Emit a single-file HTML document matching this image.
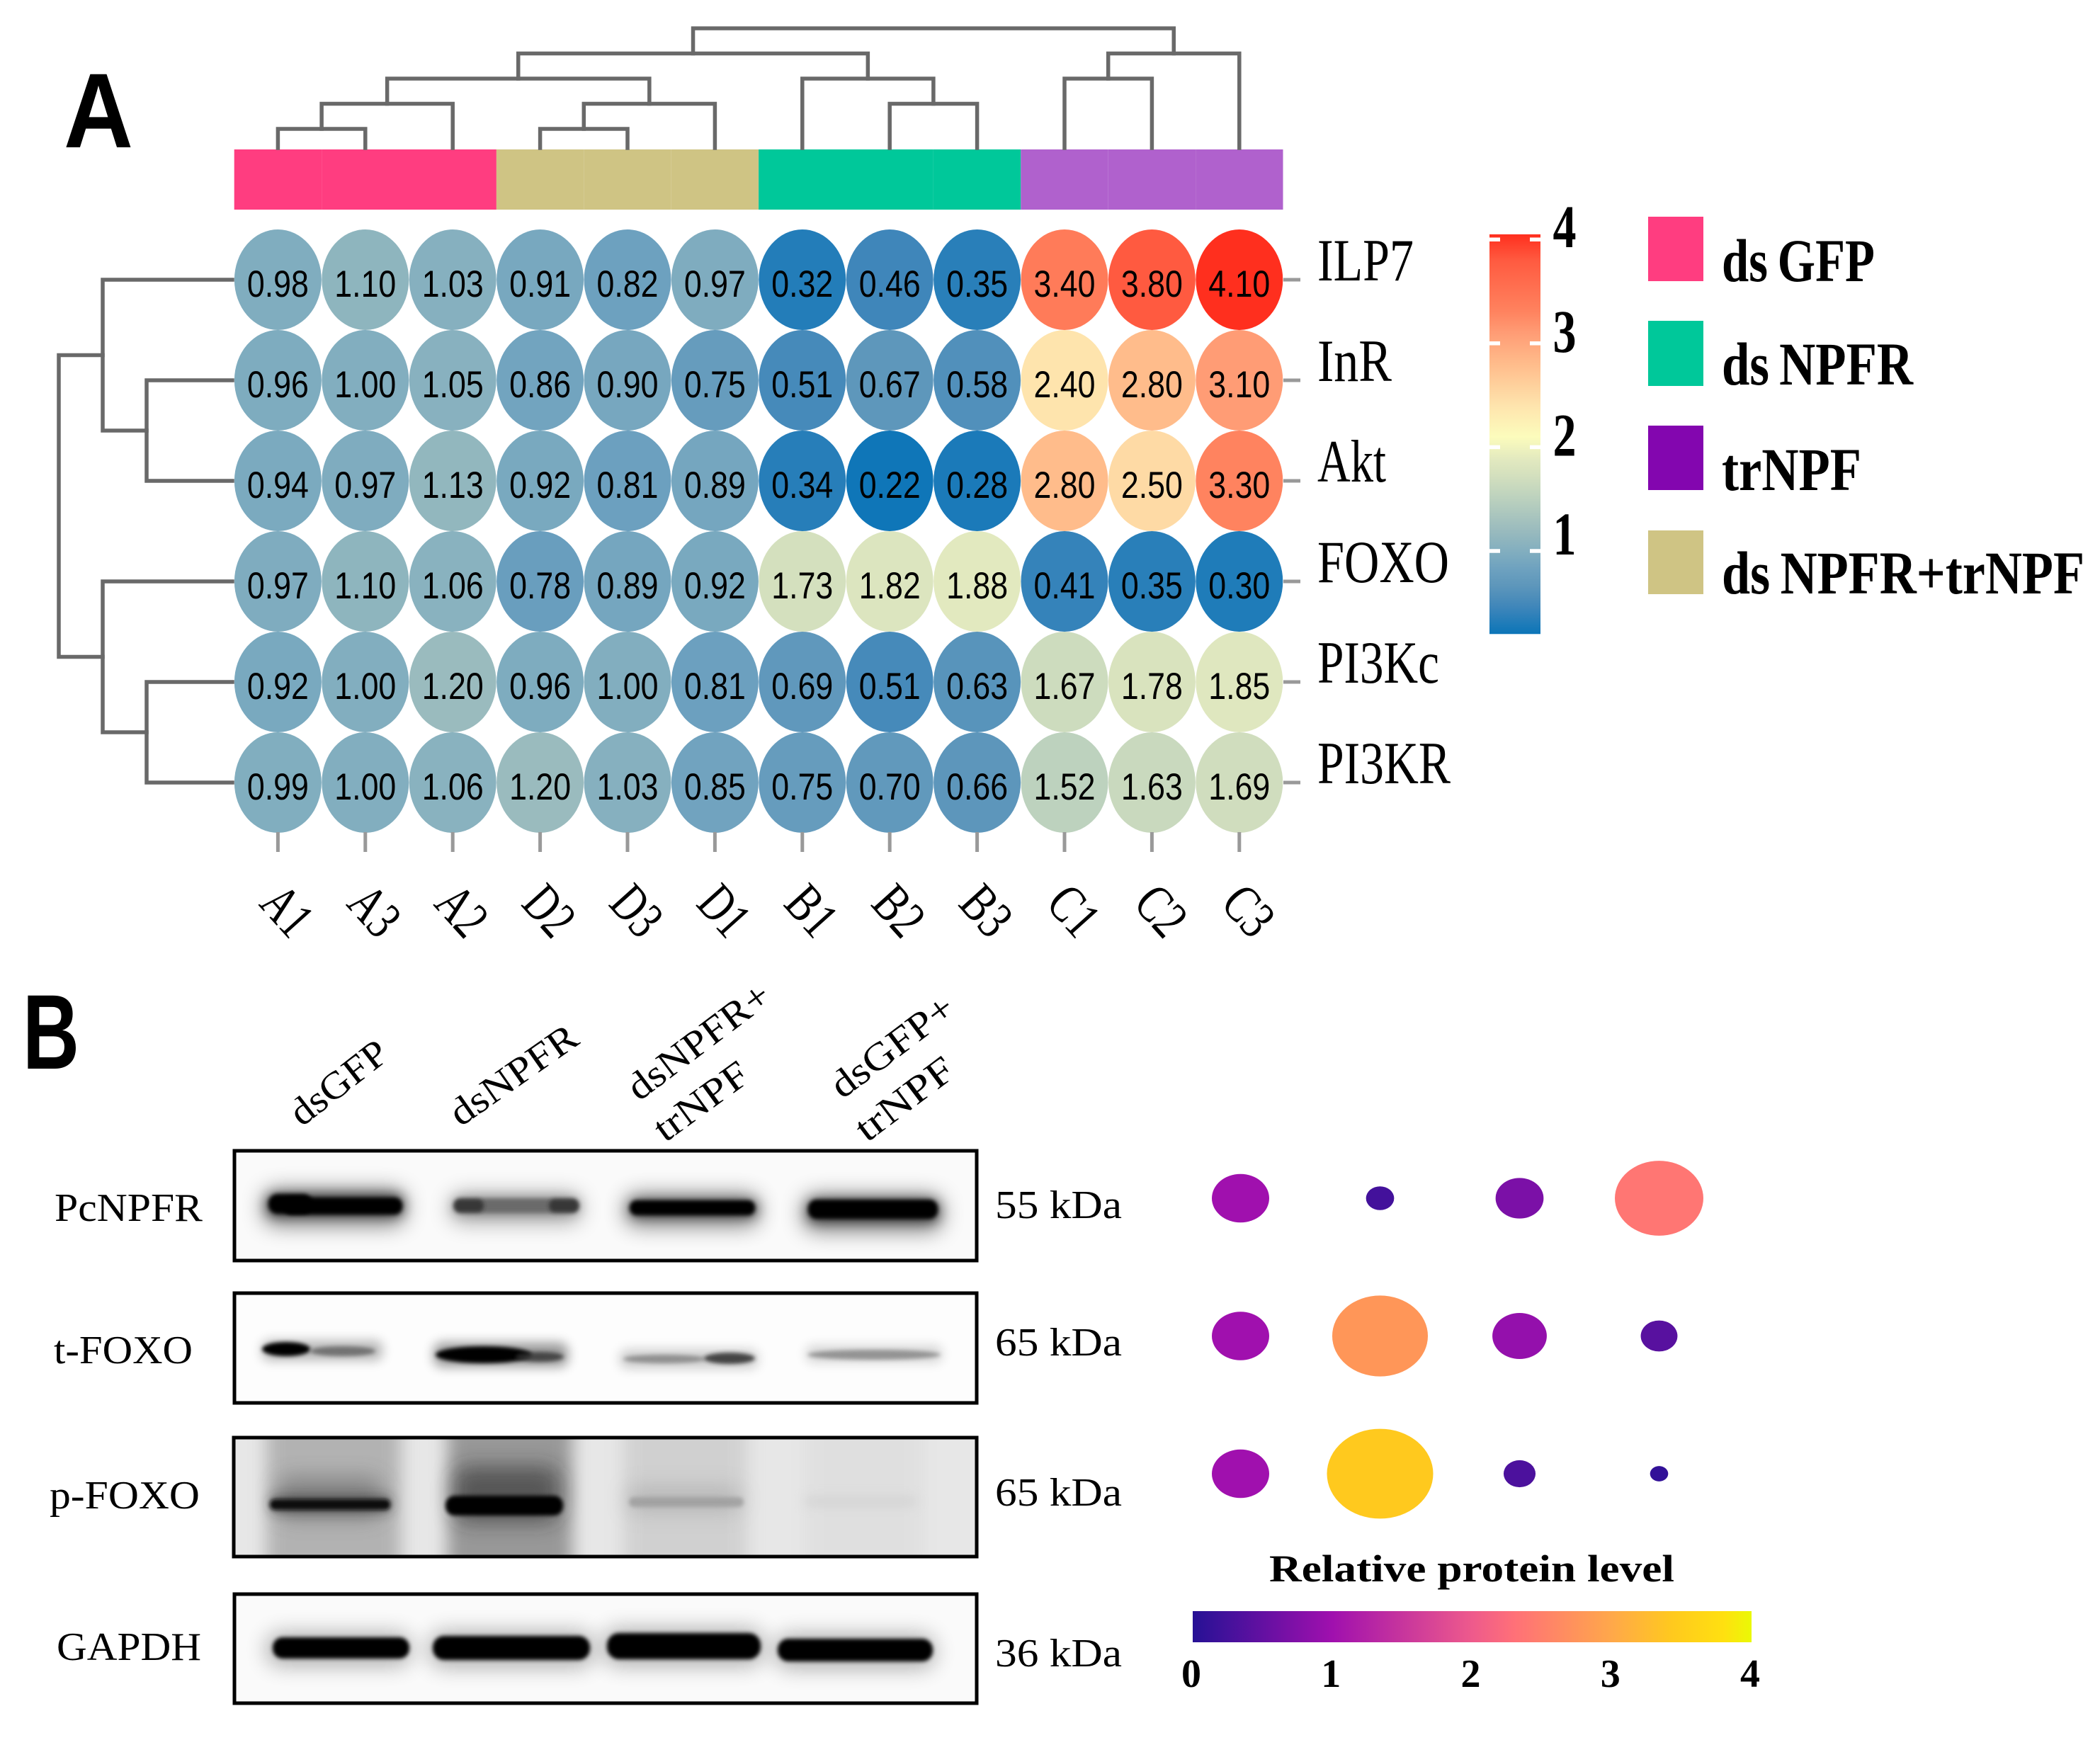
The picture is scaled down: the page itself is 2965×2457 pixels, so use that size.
<!DOCTYPE html>
<html lang="en">
<head>
<meta charset="utf-8">
<title>Heatmap and western blot figure</title>
<style>
html,body{margin:0;padding:0;background:#fff;}
svg{display:block;}
text{fill:#000;}
.serif{font-family:"Liberation Serif",serif;}
.sans{font-family:"Liberation Sans",sans-serif;}
</style>
</head>
<body>
<svg id="fig" xmlns="http://www.w3.org/2000/svg" width="2965" height="2457" viewBox="0 0 2965 2457">
<defs>
<filter id="b3" x="-30%" y="-200%" width="160%" height="500%"><feGaussianBlur stdDeviation="3"/></filter>
<filter id="b8" x="-30%" y="-300%" width="160%" height="700%"><feGaussianBlur stdDeviation="8"/></filter>
<filter id="b14" x="-40%" y="-300%" width="180%" height="700%"><feGaussianBlur stdDeviation="15"/></filter>
<filter id="b20" x="-40%" y="-100%" width="180%" height="300%"><feGaussianBlur stdDeviation="12"/></filter>
<clipPath id="c1"><rect x="331" y="1623" width="1048" height="159"/></clipPath>
<clipPath id="c2"><rect x="331" y="1824" width="1048" height="159"/></clipPath>
<clipPath id="c3"><rect x="330" y="2028" width="1049" height="172"/></clipPath>
<clipPath id="c4"><rect x="331" y="2249" width="1048" height="158"/></clipPath>
</defs>

<text class="sans" font-weight="700" x="90" y="208" font-size="150" textLength="98" lengthAdjust="spacingAndGlyphs">A</text>
<text class="sans" font-weight="700" x="32" y="1509" font-size="150" textLength="80" lengthAdjust="spacingAndGlyphs">B</text>

<g id="heatmap"></g>
<g id="legend-a">
<rect x="2327" y="306" width="78" height="91" fill="#FF3D80"/>
<rect x="2327" y="453" width="78" height="92" fill="#00C89A"/>
<rect x="2327" y="601" width="78" height="91" fill="#8306AF"/>
<rect x="2327" y="749" width="78" height="90" fill="#CFC484"/>
<g class="serif" font-weight="700" font-size="86">
<text x="2431" y="397" textLength="216" lengthAdjust="spacingAndGlyphs">ds&#8201;GFP</text>
<text x="2431" y="543" textLength="270" lengthAdjust="spacingAndGlyphs">ds&#8201;NPFR</text>
<text x="2431" y="692" textLength="197" lengthAdjust="spacingAndGlyphs">trNPF</text>
<text x="2431" y="838" textLength="512" lengthAdjust="spacingAndGlyphs">ds&#8201;NPFR+trNPF</text>
</g>
</g>

<g id="blots">
<g class="serif" font-size="54">
<text transform="translate(426,1592) rotate(-38)" textLength="160" lengthAdjust="spacingAndGlyphs">dsGFP</text>
<text transform="translate(650,1592) rotate(-35)" textLength="208" lengthAdjust="spacingAndGlyphs">dsNPFR</text>
<text transform="translate(902,1556) rotate(-37)" textLength="238" lengthAdjust="spacingAndGlyphs">dsNPFR+</text>
<text transform="translate(939,1614) rotate(-36)" textLength="152" lengthAdjust="spacingAndGlyphs">trNPF</text>
<text transform="translate(1189,1553) rotate(-37)" textLength="204" lengthAdjust="spacingAndGlyphs">dsGFP+</text>
<text transform="translate(1224,1614) rotate(-37)" textLength="160" lengthAdjust="spacingAndGlyphs">trNPF</text>
</g>

<g>
<rect x="331" y="1623" width="1048" height="159" fill="#fafafa"/>
<g clip-path="url(#c1)">
<rect x="372" y="1680" width="200" height="50" rx="18" fill="#000" opacity=".5" filter="url(#b14)"/>
<rect x="636" y="1686" width="184" height="40" rx="16" fill="#000" opacity=".34" filter="url(#b14)"/>
<rect x="882" y="1686" width="190" height="46" rx="18" fill="#000" opacity=".45" filter="url(#b14)"/>
<rect x="1134" y="1688" width="196" height="50" rx="18" fill="#000" opacity=".5" filter="url(#b14)"/>
<rect x="376" y="1686" width="194" height="32" rx="12" fill="#000" opacity=".55" filter="url(#b8)"/>
<rect x="640" y="1692" width="178" height="22" rx="10" fill="#000" opacity=".3" filter="url(#b8)"/>
<rect x="888" y="1694" width="182" height="26" rx="12" fill="#000" opacity=".5" filter="url(#b8)"/>
<rect x="1140" y="1694" width="186" height="32" rx="12" fill="#000" opacity=".55" filter="url(#b8)"/>
<rect x="379" y="1686" width="62" height="28" rx="13" fill="#000" filter="url(#b3)"/>
<rect x="400" y="1691" width="168" height="24" rx="11" fill="#000" filter="url(#b3)"/>
<rect x="641" y="1693" width="176" height="19" rx="9" fill="#6a6a6a" filter="url(#b3)"/>
<rect x="641" y="1693" width="42" height="19" rx="9" fill="#222" opacity=".7" filter="url(#b3)"/>
<rect x="775" y="1693" width="42" height="19" rx="9" fill="#222" opacity=".7" filter="url(#b3)"/>
<rect x="889" y="1695" width="177" height="21" rx="10" fill="#050505" filter="url(#b3)"/>
<rect x="1141" y="1694" width="183" height="27" rx="12" fill="#000" filter="url(#b3)"/>
</g>
<rect x="331" y="1625" width="1048" height="155" fill="none" stroke="#000" stroke-width="5"/>
</g>

<g>
<rect x="331" y="1824" width="1048" height="159" fill="#fdfdfd"/>
<g clip-path="url(#c2)">
<rect x="370" y="1893" width="170" height="28" rx="10" fill="#000" opacity=".28" filter="url(#b8)"/>
<rect x="612" y="1896" width="190" height="34" rx="12" fill="#000" opacity=".4" filter="url(#b8)"/>
<rect x="875" y="1906" width="195" height="26" rx="10" fill="#000" opacity=".2" filter="url(#b8)"/>
<rect x="1138" y="1900" width="192" height="24" rx="9" fill="#000" opacity=".16" filter="url(#b8)"/>
<ellipse cx="404" cy="1905" rx="34" ry="10" fill="#000" filter="url(#b3)"/>
<ellipse cx="484" cy="1908" rx="46" ry="7" fill="#555" opacity=".7" filter="url(#b3)"/>
<ellipse cx="683" cy="1913" rx="68" ry="12" fill="#000" filter="url(#b3)"/>
<ellipse cx="762" cy="1916" rx="34" ry="7" fill="#333" opacity=".8" filter="url(#b3)"/>
<ellipse cx="938" cy="1919" rx="58" ry="6" fill="#777" opacity=".7" filter="url(#b3)"/>
<ellipse cx="1030" cy="1918" rx="36" ry="8" fill="#222" opacity=".8" filter="url(#b3)"/>
<ellipse cx="1234" cy="1913" rx="94" ry="7" fill="#777" opacity=".7" filter="url(#b3)"/>
</g>
<rect x="331" y="1826" width="1048" height="155" fill="none" stroke="#000" stroke-width="5"/>
</g>

<g>
<rect x="330" y="2028" width="1049" height="172" fill="#e7e7e7"/>
<g clip-path="url(#c3)">
<rect x="376" y="2000" width="190" height="220" fill="#888" opacity=".55" filter="url(#b20)"/>
<rect x="632" y="2000" width="176" height="220" fill="#777" opacity=".7" filter="url(#b20)"/>
<rect x="880" y="2000" width="175" height="220" fill="#bbb" opacity=".5" filter="url(#b20)"/>
<rect x="1135" y="2000" width="170" height="220" fill="#d0d0d0" opacity=".3" filter="url(#b20)"/>
<rect x="390" y="2085" width="150" height="60" rx="20" fill="#444" opacity=".4" filter="url(#b14)"/>
<rect x="640" y="2070" width="150" height="80" rx="20" fill="#222" opacity=".55" filter="url(#b14)"/>
<rect x="885" y="2100" width="160" height="35" rx="12" fill="#888" opacity=".35" filter="url(#b14)"/>
<rect x="381" y="2112" width="172" height="24" rx="10" fill="#222" opacity=".5" filter="url(#b8)"/>
<rect x="381" y="2117" width="170" height="15" rx="7" fill="#111" filter="url(#b3)"/>
<rect x="629" y="2112" width="166" height="28" rx="13" fill="#000" filter="url(#b3)"/>
<rect x="888" y="2114" width="162" height="14" rx="7" fill="#999" opacity=".75" filter="url(#b3)"/>
<rect x="1135" y="2114" width="160" height="12" rx="6" fill="#c4c4c4" opacity=".5" filter="url(#b8)"/>
</g>
<rect x="330" y="2030" width="1049" height="168" fill="none" stroke="#000" stroke-width="5"/>
</g>

<g>
<rect x="331" y="2249" width="1048" height="158" fill="#fafafa"/>
<g clip-path="url(#c4)">
<rect x="376" y="2306" width="205" height="46" rx="20" fill="#000" opacity=".3" filter="url(#b14)"/>
<rect x="606" y="2304" width="232" height="50" rx="20" fill="#000" opacity=".3" filter="url(#b14)"/>
<rect x="852" y="2300" width="226" height="52" rx="20" fill="#000" opacity=".3" filter="url(#b14)"/>
<rect x="1094" y="2308" width="226" height="48" rx="20" fill="#000" opacity=".3" filter="url(#b14)"/>
<rect x="385" y="2312" width="193" height="30" rx="14" fill="#000" filter="url(#b3)"/>
<rect x="611" y="2310" width="222" height="34" rx="16" fill="#000" filter="url(#b3)"/>
<rect x="857" y="2306" width="217" height="37" rx="17" fill="#000" filter="url(#b3)"/>
<rect x="1098" y="2314" width="219" height="32" rx="15" fill="#000" filter="url(#b3)"/>
</g>
<rect x="331" y="2251" width="1048" height="154" fill="none" stroke="#000" stroke-width="5"/>
</g>

<g class="serif" font-size="56">
<text x="77" y="1724" textLength="209" lengthAdjust="spacingAndGlyphs">PcNPFR</text>
<text x="76" y="1925" textLength="196" lengthAdjust="spacingAndGlyphs">t-FOXO</text>
<text x="70" y="2130" textLength="212" lengthAdjust="spacingAndGlyphs">p-FOXO</text>
<text x="80" y="2344" textLength="204" lengthAdjust="spacingAndGlyphs">GAPDH</text>
<text x="1405" y="1720" textLength="179" lengthAdjust="spacingAndGlyphs">55 kDa</text>
<text x="1405" y="1914" textLength="179" lengthAdjust="spacingAndGlyphs">65 kDa</text>
<text x="1405" y="2126" textLength="179" lengthAdjust="spacingAndGlyphs">65 kDa</text>
<text x="1405" y="2353" textLength="179" lengthAdjust="spacingAndGlyphs">36 kDa</text>
</g>
</g>

<g id="bubbles"></g>
<text class="serif" font-weight="700" font-size="54" x="1792" y="2233" textLength="572" lengthAdjust="spacingAndGlyphs">Relative protein level</text>
</svg>

<script>
// ---------- Heatmap data ----------
const heatColumns = ['A1','A3','A2','D2','D3','D1','B1','B2','B3','C1','C2','C3'];
const heatGenes = ['ILP7','InR','Akt','FOXO','PI3Kc','PI3KR'];
const valuesILP7 = [0.98,1.10,1.03,0.91,0.82,0.97,0.32,0.46,0.35,3.40,3.80,4.10];
const valuesInR = [0.96,1.00,1.05,0.86,0.90,0.75,0.51,0.67,0.58,2.40,2.80,3.10];
const valuesAkt = [0.94,0.97,1.13,0.92,0.81,0.89,0.34,0.22,0.28,2.80,2.50,3.30];
const valuesFOXO = [0.97,1.10,1.06,0.78,0.89,0.92,1.73,1.82,1.88,0.41,0.35,0.30];
const valuesPI3Kc = [0.92,1.00,1.20,0.96,1.00,0.81,0.69,0.51,0.63,1.67,1.78,1.85];
const valuesPI3KR = [0.99,1.00,1.06,1.20,1.03,0.85,0.75,0.70,0.66,1.52,1.63,1.69];
const heatRows = [valuesILP7,valuesInR,valuesAkt,valuesFOXO,valuesPI3Kc,valuesPI3KR];
const columnGroups = ['dsGFP','dsGFP','dsGFP','mix','mix','mix','dsNPFR','dsNPFR','dsNPFR','trNPF','trNPF','trNPF'];
const groupNames = ['dsGFP','mix','dsNPFR','trNPF'];
const groupColors = ['#FF3D80','#CFC484','#00C89A','#B061CD'];
const heatStops = [0.2,0.46,0.67,0.82,0.98,1.2,1.5,1.73,1.88,2.1,2.4,2.8,3.1,3.3,3.8,4.1];
const heatColors = ['#0B75B8','#3F86BA','#5E97BB','#6DA1BF','#80ADBF','#9ABBBE','#BBD1BE','#D4E0BE','#E2E9BF','#FCFCBC','#FEE4AD','#FFBC8B','#FF9C75','#FF835F','#FF5A40','#FF2F1E'];
const heatTicks = [1,2,3,4];
const heatBarRange = [0.2,4.05];
// dendrograms: [left, right, mergeHeight]; numbers are leaf indices
const topTree = [[[[[0,1,1],2,2],[[3,4,1],5,2],3],[6,[7,8,2],3],4],[[9,10,3],11,4],5];
const leftTree = [[0,[1,2,1],2],[3,[4,5,1],2],3];
// ---------- Bubble data ----------
const bubbleRowA = [1.00,0.24,0.70,2.38];
const bubbleRowB = [1.00,2.78,0.90,0.41];
const bubbleRowC = [1.00,3.43,0.31,0.10];
const bubbleRows = [bubbleRowA,bubbleRowB,bubbleRowC];
const bubbleRowNames = ['PcNPFR','t-FOXO','p-FOXO'];
const bubbleTicks = [0,1,2,3,4];
const plasmaStops = [0,1,2,2.3,3,3.43,3.8,4];
const plasmaColors = ['#261195','#A010AE','#EE5A8C','#FF7078','#FFA84A','#FFC91E','#FFE010','#EAF905'];

// ---------- Axis functions ----------
const xCol = i => 392.4 + 123.4 * i;
const yRow = j => 395 + 142 * j;
const yHeatBar = v => 924.6 - 146.6 * v;
const yTopMerge = h => 182 - 35.5 * (h - 1);
const xLeftMerge = h => 207 - 62 * (h - 1);
const xBubbleCol = i => 1751.5 + 197 * i;
const yBubbleRow = j => 1692 + 194.5 * j;
const bubbleW = v => 81 * Math.sqrt(v);
const bubbleH = v => 68.5 * Math.sqrt(v);
const xPlasma = v => 1684 + 197.25 * v;

const NS = 'http://www.w3.org/2000/svg';
function el(tag, attrs, parent, txt) {
  const e = document.createElementNS(NS, tag);
  for (const k in attrs) e.setAttribute(k, attrs[k]);
  if (txt !== undefined) e.textContent = txt;
  parent.appendChild(e);
  return e;
}
function ramp(stops, colors, v) {
  const hex = c => [1,3,5].map(p => parseInt(c.substr(p,2),16));
  if (v <= stops[0]) return colors[0];
  for (let i = 1; i < stops.length; i++) {
    if (v <= stops[i]) {
      const t = (v - stops[i-1]) / (stops[i] - stops[i-1]);
      const a = hex(colors[i-1]), b = hex(colors[i]);
      return 'rgb(' + a.map((x,k) => Math.round(x + (b[k]-x)*t)).join(',') + ')';
    }
  }
  return colors[colors.length-1];
}

const svg = document.getElementById('fig');
const defs = svg.querySelector('defs');
const hm = document.getElementById('heatmap');
const DENDRO = '#696969';

// annotation strip
heatColumns.forEach((c, i) => {
  const r = el('rect', {x: xCol(i)-61.7, y: 211, width: 123.4, height: 85,
    fill: groupColors[groupNames.indexOf(columnGroups[i])]}, hm);
  
  
});

// dendrograms
const dendroTop = el('g', {fill:'none', stroke:DENDRO, 'stroke-width':5.5, 'stroke-linecap':'square'}, hm);


function drawTop(node) {
  if (typeof node === 'number') return {x: xCol(node), y: 209};
  const a = drawTop(node[0]), b = drawTop(node[1]), y = yTopMerge(node[2]);
  el('path', {d: `M${a.x} ${a.y}V${y}H${b.x}V${b.y}`}, dendroTop);
  return {x: (a.x + b.x) / 2, y};
}
drawTop(topTree);
const dendroLeft = el('g', {fill:'none', stroke:DENDRO, 'stroke-width':5.5, 'stroke-linecap':'square'}, hm);


function drawLeft(node) {
  if (typeof node === 'number') return {x: 328, y: yRow(node)};
  const a = drawLeft(node[0]), b = drawLeft(node[1]), x = xLeftMerge(node[2]);
  el('path', {d: `M${a.x} ${a.y}H${x}V${b.y}H${b.x}`}, dendroLeft);
  return {x, y: (a.y + b.y) / 2};
}
drawLeft(leftTree);

// cells
heatRows.forEach((row, j) => {
  row.forEach((v, i) => {
    const c = el('ellipse', {cx: xCol(i), cy: yRow(j), rx: 61.5, ry: 71, fill: ramp(heatStops, heatColors, v)}, hm);
    
    
    const t = el('text', {x: xCol(i), y: yRow(j)+24, 'text-anchor':'middle', class:'sans', 'font-size':53,
      textLength: 87, lengthAdjust:'spacingAndGlyphs'}, hm, v.toFixed(2));
    
    
  });
});

// gene labels and ticks
const geneWidths = [136,105,97,186,172,188];
heatGenes.forEach((g, j) => {
  const tk = el('line', {x1:1812, x2:1836, y1:yRow(j), y2:yRow(j), stroke:'#999', 'stroke-width':5}, hm);
  
  
  const t = el('text', {x:1860, y:yRow(j)+1, class:'serif', 'font-size':85,
    textLength: geneWidths[j], lengthAdjust:'spacingAndGlyphs'}, hm, g);
  
  
});

// column labels and ticks
heatColumns.forEach((c, i) => {
  const tk = el('line', {x1:xCol(i), x2:xCol(i), y1:1175, y2:1203, stroke:'#999', 'stroke-width':5}, hm);
  
  
  const t = el('text', {transform:`translate(${xCol(i)+13},1286) rotate(48)`, 'text-anchor':'middle', 'dominant-baseline':'central',
    class:'serif', 'font-size':76, textLength:68, lengthAdjust:'spacingAndGlyphs'}, hm, c);
  
  
});

// heat colour bar
const heatTop = yHeatBar(heatBarRange[1]), heatBottom = yHeatBar(heatBarRange[0]);
const gradH = el('linearGradient', {id:'gradHeat', x1:0, y1:1, x2:0, y2:0}, defs);
heatStops.forEach((s, k) => {
  const off = (s - heatBarRange[0]) / (heatBarRange[1] - heatBarRange[0]);
  el('stop', {offset: Math.min(off,1), 'stop-color': heatColors[k]}, gradH);
});
const hb = el('rect', {x:2103, y:heatTop, width:72, height:heatBottom-heatTop, fill:'url(#gradHeat)'}, hm);


heatTicks.forEach(v => {
  const y = yHeatBar(v);
  [2103, 2160].forEach(x => {
    const r = el('rect', {x, y:y-2.75, width:15, height:5.5, fill:'#fff'}, hm);
    
    
  });
  const t = el('text', {x:2209, y:y+ (v===4?11:(v===1?5:12)), 'text-anchor':'middle', class:'serif', 'font-weight':700, 'font-size':86,
    textLength:33, lengthAdjust:'spacingAndGlyphs'}, hm, v);
  
  
});

// bubbles
const bub = document.getElementById('bubbles');
bubbleRows.forEach((row, j) => {
  row.forEach((v, i) => {
    const b = el('ellipse', {cx:xBubbleCol(i), cy:yBubbleRow(j), rx:bubbleW(v)/2, ry:bubbleH(v)/2, fill:ramp(plasmaStops, plasmaColors, v)}, bub);
    
    
  });
});
const gradP = el('linearGradient', {id:'gradPlasma', x1:0, y1:0, x2:1, y2:0}, defs);
plasmaStops.forEach((s, k) => {
  el('stop', {offset: s/4, 'stop-color': plasmaColors[k]}, gradP);
});
const pb = el('rect', {x:xPlasma(0), y:2275, width:xPlasma(4)-xPlasma(0), height:44, fill:'url(#gradPlasma)'}, bub);


bubbleTicks.forEach(v => {
  const t = el('text', {x:xPlasma(v)-2, y:2382, 'text-anchor':'middle', class:'serif', 'font-weight':700, 'font-size':56}, bub, v);
  
  
});
</script>
</body>
</html>
